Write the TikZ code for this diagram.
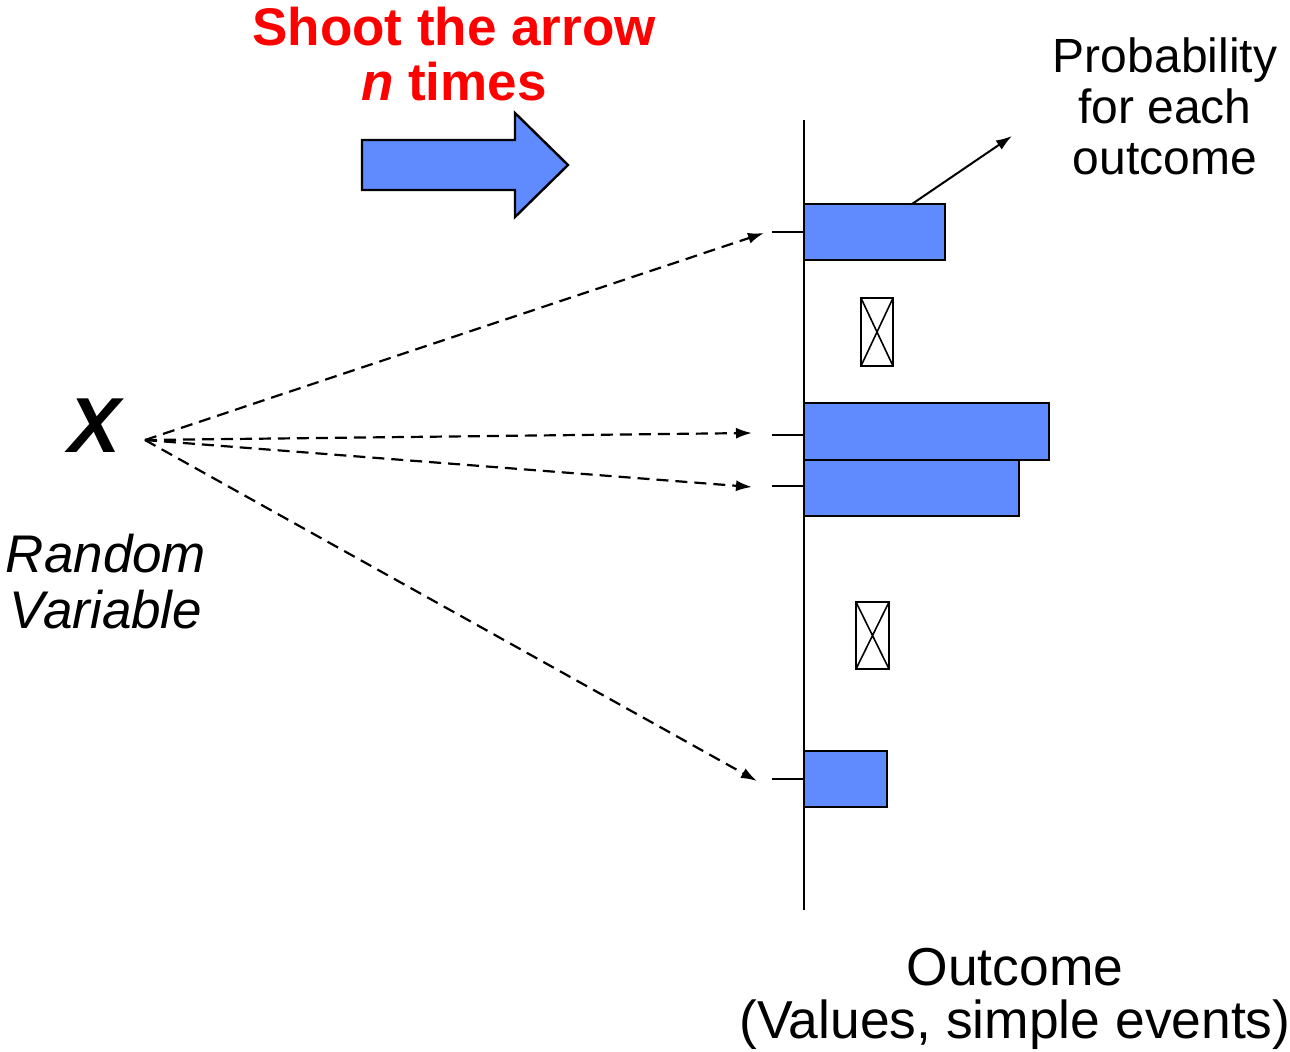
\documentclass[tikz,border=0pt]{standalone}
\usepackage{fontspec}
\setmainfont{Liberation Sans}
\usetikzlibrary{arrows.meta}
\definecolor{barblue}{RGB}{95,139,255}
\definecolor{titlered}{RGB}{255,0,0}
\begin{document}
\begin{tikzpicture}[x=0.5pt,y=-0.5pt,
  bar/.style={draw, line width=1.2pt, fill=barblue, inner sep=0pt, outer sep=0pt, anchor=north west},
  xbox/.style={draw, line width=1pt, inner sep=0pt, outer sep=0pt, anchor=north west,
    path picture={\draw[line width=0.8pt] (path picture bounding box.north west) -- (path picture bounding box.south east)
      (path picture bounding box.north east) -- (path picture bounding box.south west);}},
  shot/.style={draw, line width=1.1pt, dash pattern=on 6pt off 3.5pt, -{Latex[length=8pt,width=5.5pt]}},
  tick/.style={line width=1pt},
  lbl/.style={anchor=base, inner sep=0pt, font=\fontsize{24}{26}\selectfont},
  title/.style={anchor=base, inner sep=0pt, text=titlered, font=\fontsize{26.5}{28}\selectfont\bfseries}
]
\useasboundingbox (0,0) rectangle (1290,1051);

% axis
\coordinate (axtop) at (804,120);
\coordinate (axbot) at (804,910);
\draw[line width=1.2pt] (axtop) -- (axbot);

% bars
\node[bar, minimum width=70.5pt, minimum height=28pt] (b1) at (804,204) {};
\node[bar, minimum width=122.5pt, minimum height=28.5pt] (b2) at (804,403) {};
\node[bar, minimum width=107.5pt, minimum height=28pt] (b3) at (804,460) {};
\node[bar, minimum width=41.5pt, minimum height=28pt] (b4) at (804,751) {};

% crossed boxes
\node[xbox, minimum width=16pt, minimum height=34pt] (x1) at (861,298) {};
\node[xbox, minimum width=16.5pt, minimum height=33.5pt] (x2) at (856,602) {};

% ticks
\draw[tick] (b1.west) -- ++(-32,0) coordinate (t1);
\draw[tick] (804,435) coordinate (s2) -- ++(-32,0) coordinate (t2);
\draw[tick] (804,486) coordinate (s3) -- ++(-32,0) coordinate (t3);
\draw[tick] (b4.west) -- ++(-32,0) coordinate (t4);

% random variable
\node[anchor=base, inner sep=0pt, font=\fontsize{39}{40}\selectfont\bfseries\itshape] (X) at (95,452) {X};
\node[lbl, font=\fontsize{26.5}{28}\selectfont\itshape] (rv1) at (106,572) {Random};
\node[lbl, font=\fontsize{26.5}{28}\selectfont\itshape] (rv2) at (106,628) {Variable};

\coordinate (o) at (145,440);
\coordinate (a1) at (764,233);
\coordinate (a2) at (752,433);
\coordinate (a3) at (752,487);
\coordinate (a4) at (757,781);
\draw[shot] (o) -- (a1);
\draw[shot] (o) -- (a2);
\draw[shot] (o) -- (a3);
\draw[shot] (o) -- (a4);

% title and block arrow
\node[title] (sh1) at (454,45) {Shoot the arrow};
\node[title] (sh2) at (454,100) {\itshape n\upshape\ times};
\draw[line width=1.2pt, fill=barblue, line join=miter] (362,140) -- (515,140) -- (515,113) -- (568,165) -- (515,217) -- (515,190) -- (362,190) -- cycle;

% probability label
\node[lbl] (p1) at (1165,72) {Probability};
\node[lbl] (p2) at (1165,123) {for each};
\node[lbl] (p3) at (1165,174) {outcome};
\coordinate (pstart) at (912,204);
\coordinate (pend) at (1012,136);
\draw[line width=1pt, -{Latex[length=8pt,width=5.5pt]}] (pstart) -- (pend);

% outcome label
\node[lbl, font=\fontsize{26.7}{28}\selectfont] (o1) at (1015,985) {Outcome};
\node[lbl, font=\fontsize{26.7}{28}\selectfont] (o2) at (1015,1038) {(Values, simple events)};
\end{tikzpicture}
\end{document}
